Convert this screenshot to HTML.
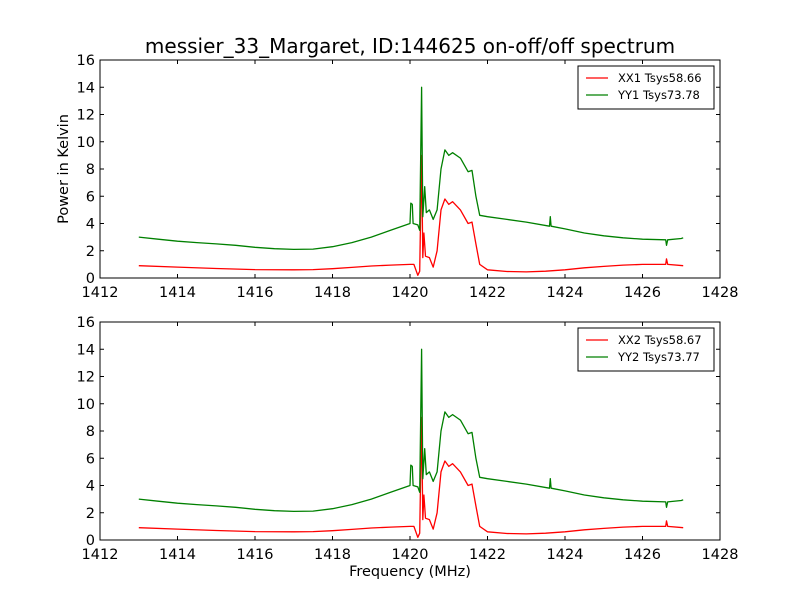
<!DOCTYPE html>
<html><head><meta charset="utf-8"><style>body{margin:0;background:#fff}svg{display:block;font-family:"DejaVu Sans","Liberation Sans",sans-serif}</style></head>
<body>
<svg id="c" width="800" height="600"></svg>
<script>
const xTicks=[1412,1414,1416,1418,1420,1422,1424,1426,1428];
const yTicks=[0,2,4,6,8,10,12,14,16];
const greenFreq=[1413,1413.5,1414,1414.5,1415,1415.5,1416,1416.5,1417,1417.5,1418,1418.5,1419,1419.5,1420,1420.02,1420.06,1420.08,1420.2,1420.25,1420.3,1420.33,1420.38,1420.42,1420.5,1420.6,1420.7,1420.8,1420.9,1421,1421.1,1421.3,1421.5,1421.6,1421.7,1421.8,1422,1422.5,1423,1423.6,1423.62,1423.64,1424,1424.5,1425,1425.5,1426,1426.6,1426.62,1426.65,1427,1427.05];
const greenVal=[3.0,2.85,2.7,2.6,2.5,2.4,2.25,2.15,2.1,2.12,2.3,2.6,3.0,3.5,4.0,5.5,5.4,4.0,3.9,3.5,14.0,4.5,6.7,4.8,5.0,4.3,5.0,8.0,9.4,9.0,9.2,8.8,7.8,7.9,6.0,4.6,4.5,4.3,4.1,3.8,4.5,3.8,3.6,3.3,3.1,2.95,2.85,2.8,2.4,2.8,2.9,2.95];
const redFreq=[1413,1414,1415,1416,1417,1417.5,1418,1418.5,1419,1419.5,1420,1420.1,1420.2,1420.25,1420.3,1420.33,1420.36,1420.4,1420.5,1420.6,1420.7,1420.8,1420.9,1421,1421.1,1421.3,1421.5,1421.6,1421.7,1421.8,1422,1422.5,1423,1423.5,1424,1424.5,1425,1425.5,1426,1426.6,1426.62,1426.65,1427.05];
const redVal=[0.9,0.8,0.7,0.62,0.6,0.62,0.68,0.78,0.88,0.95,1.0,1.0,0.2,0.5,9.0,1.5,3.3,1.6,1.5,0.8,2.0,5.0,5.8,5.4,5.6,5.0,4.0,4.1,2.5,1.0,0.6,0.48,0.45,0.5,0.6,0.75,0.85,0.95,1.0,1.0,1.4,1.0,0.9];
const legends=[["XX1 Tsys58.66","YY1 Tsys73.78"],["XX2 Tsys58.67","YY2 Tsys73.77"]];
const svg=document.getElementById('c');const NS='http://www.w3.org/2000/svg';
function mk(t,a,p){const e=document.createElementNS(NS,t);for(const k in a)e.setAttribute(k,a[k]);(p||svg).appendChild(e);return e;}
const L=100,R=720;
function xs(f){return L+(f-1412)/16*(R-L);}
function panel(top,bot,idx){
  const g=mk('g',{});
  
  
  const ys=v=>bot-(v/16)*(bot-top);
  const line=(fr,vals,col,name)=>{let d='';fr.forEach((f,i)=>{d+=(i?'L':'M')+xs(f).toFixed(1)+' '+ys(vals[i]).toFixed(1);});
    const p=mk('path',{d:d,fill:'none',stroke:col,'stroke-width':1.3,'stroke-linejoin':'round'},g);
    
    };
  line(redFreq,redVal,'#ff0000','red-series-'+(idx+1));
  line(greenFreq,greenVal,'#008000','green-series-'+(idx+1));
  mk('rect',{x:L,y:top,width:R-L,height:bot-top,fill:'none',stroke:'#000','stroke-width':1},g);
  xTicks.forEach(t=>{const x=xs(t);mk('line',{x1:x,x2:x,y1:bot,y2:bot-4,stroke:'#000'},g);mk('line',{x1:x,x2:x,y1:top,y2:top+4,stroke:'#000'},g);
    const tx=mk('text',{x:x,y:bot+19,'text-anchor':'middle','font-size':14.5},g);tx.textContent=t;
    
    });
  yTicks.forEach(t=>{const y=ys(t);mk('line',{x1:L,x2:L+4,y1:y,y2:y,stroke:'#000'},g);mk('line',{x1:R,x2:R-4,y1:y,y2:y,stroke:'#000'},g);
    const tx=mk('text',{x:L-5,y:y+5,'text-anchor':'end','font-size':14.5},g);tx.textContent=t;
    
    });
  const lg=mk('g',{},g);
  
  
  const lx=578,ly=top+6;
  mk('rect',{x:lx,y:ly,width:136,height:43,fill:'#fff',stroke:'#000'},lg);
  [['#ff0000',legends[idx][0]],['#008000',legends[idx][1]]].forEach((e,i)=>{const y=ly+12+i*17;
    mk('line',{x1:lx+8,x2:lx+30,y1:y,y2:y,stroke:e[0],'stroke-width':1.2},lg);
    const t=mk('text',{x:lx+40,y:y+4,'font-size':11.5},lg);t.textContent=e[1];});
}
panel(60,278,0);panel(322,540,1);
const ti=mk('text',{x:410,y:53,'text-anchor':'middle','font-size':20});ti.textContent='messier_33_Margaret, ID:144625 on-off/off spectrum';


const yl=mk('text',{x:68,y:169,'text-anchor':'middle','font-size':14.5,transform:'rotate(-90 68 169)'});yl.textContent='Power in Kelvin';


const xl=mk('text',{x:410,y:576,'text-anchor':'middle','font-size':14.5});xl.textContent='Frequency (MHz)';


</script>
</body></html>
